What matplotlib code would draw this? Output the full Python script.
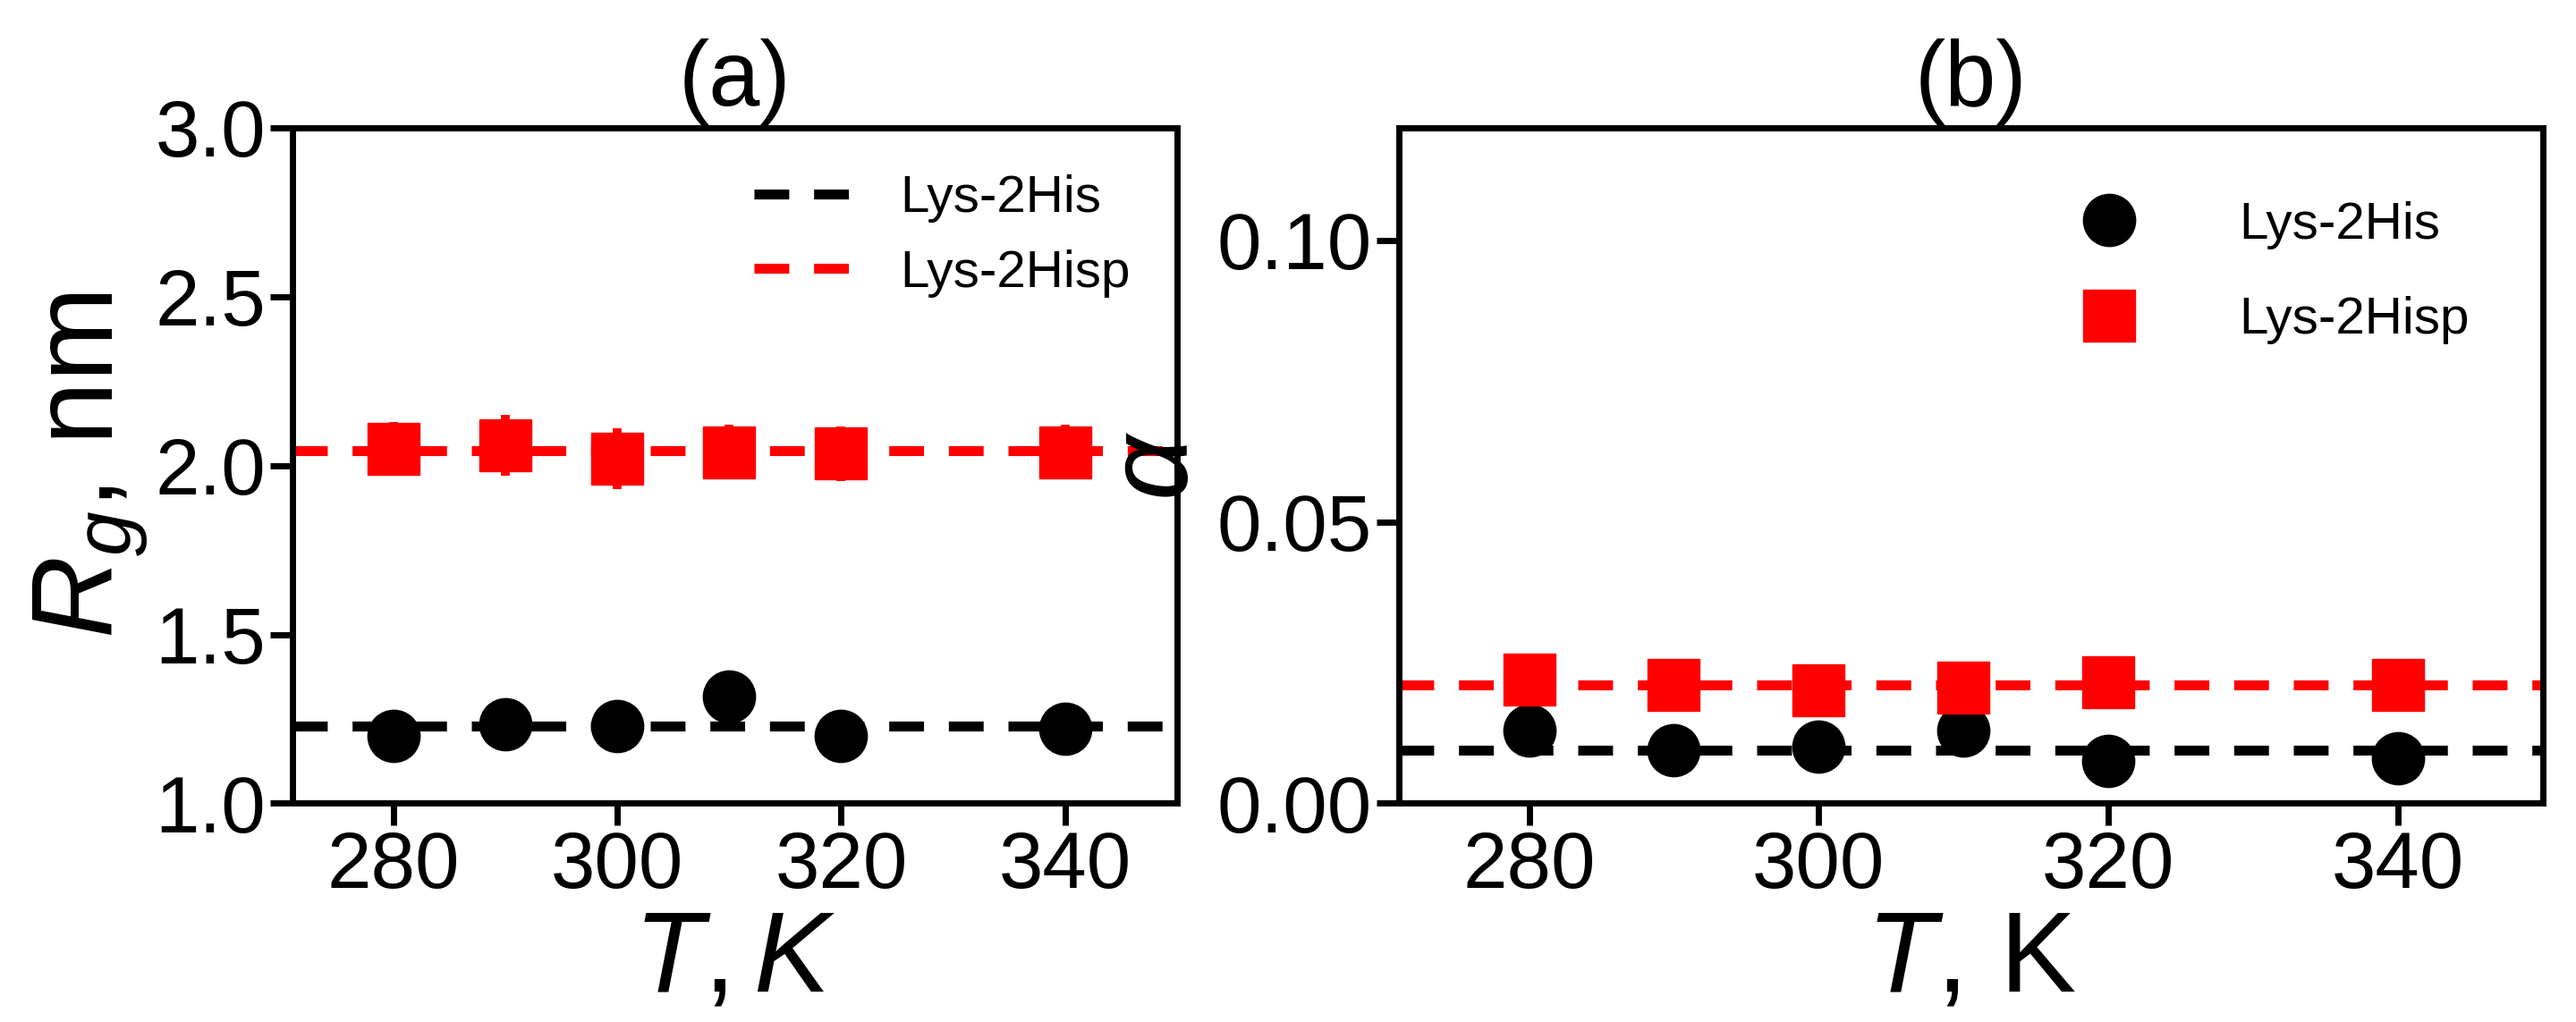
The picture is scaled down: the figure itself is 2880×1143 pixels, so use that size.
import matplotlib
matplotlib.use("Agg")
import matplotlib.pyplot as plt

plt.rcParams['font.family'] = ['Liberation Sans', 'DejaVu Sans']
plt.rcParams['mathtext.fontset'] = 'custom'
plt.rcParams['mathtext.it'] = 'Liberation Sans:italic'
plt.rcParams['mathtext.rm'] = 'Liberation Sans'

T = [280, 290, 300, 310, 320, 340]
# panel (a): radius of gyration
rg_his = [1.20, 1.235, 1.23, 1.315, 1.20, 1.22]
rg_his_err = [0.03, 0.03, 0.03, 0.04, 0.06, 0.03]
rg_hisp = [2.05, 2.06, 2.02, 2.04, 2.035, 2.04]
rg_hisp_err = [0.08, 0.09, 0.09, 0.08, 0.08, 0.08]
rg_his_mean = 1.23
rg_hisp_mean = 2.045
# panel (b): alpha
al_his = [0.013, 0.0095, 0.010, 0.013, 0.0075, 0.008]
al_hisp = [0.022, 0.021, 0.020, 0.0205, 0.0215, 0.021]
al_his_mean = 0.0095
al_hisp_mean = 0.021

fig = plt.figure(figsize=(28.8, 11.43), dpi=100)
ax1 = fig.add_axes([0.1135, 0.214, 0.3435, 0.661])
ax2 = fig.add_axes([0.543, 0.214, 0.444, 0.661])

LW = 8
MS = 42
ax1.axhline(rg_his_mean, color='black', ls='--', lw=LW, dashes=(3.5, 2.5), label='Lys-2His')
ax1.axhline(rg_hisp_mean, color='red', ls='--', lw=LW, dashes=(3.5, 2.5), label='Lys-2Hisp')
ax1.errorbar(T, rg_his, yerr=rg_his_err, fmt='o', color='black', ms=MS, elinewidth=7, capsize=0)
ax1.errorbar(T, rg_hisp, yerr=rg_hisp_err, fmt='s', color='red', ms=MS, elinewidth=7, capsize=0)
ax1.set_ylim(1.0, 3.0)
ax1.set_yticks([1.0, 1.5, 2.0, 2.5, 3.0])
ax1.set_ylabel(r'$R_g$, nm', fontsize=92)
ax1.set_xlabel(r'$T, K$', fontsize=92, labelpad=2)
ax1.set_title('(a)', fontsize=74, pad=18)
ax1.legend(loc='upper right', fontsize=42, frameon=False, handlelength=2.0)

ax2.axhline(al_his_mean, color='black', ls='--', lw=LW, dashes=(3.5, 2.5))
ax2.axhline(al_hisp_mean, color='red', ls='--', lw=LW, dashes=(3.5, 2.5))
ax2.plot(T, al_his, 'o', color='black', ms=MS, label='Lys-2His')
ax2.plot(T, al_hisp, 's', color='red', ms=MS, label='Lys-2Hisp')
ax2.set_ylim(0, 0.12)
ax2.set_yticks([0.00, 0.05, 0.10])
ax2.set_yticklabels(['0.00', '0.05', '0.10'])
ax2.set_ylabel(r'$\alpha$', fontsize=92)
ax2.set_xlabel(r'$T$, K', fontsize=92, labelpad=2)
ax2.set_title('(b)', fontsize=74, pad=18)
ax2.legend(loc='upper right', fontsize=42, frameon=False, handletextpad=1.5,
           borderaxespad=1.0, labelspacing=0.9)

for ax in (ax1, ax2):
    ax.set_xlim(271, 350)
    ax.set_xticks([280, 300, 320, 340])
    ax.tick_params(labelsize=64, width=5, length=18)
    for s in ax.spines.values():
        s.set_linewidth(5)

fig.savefig('out.png', dpi=100)
